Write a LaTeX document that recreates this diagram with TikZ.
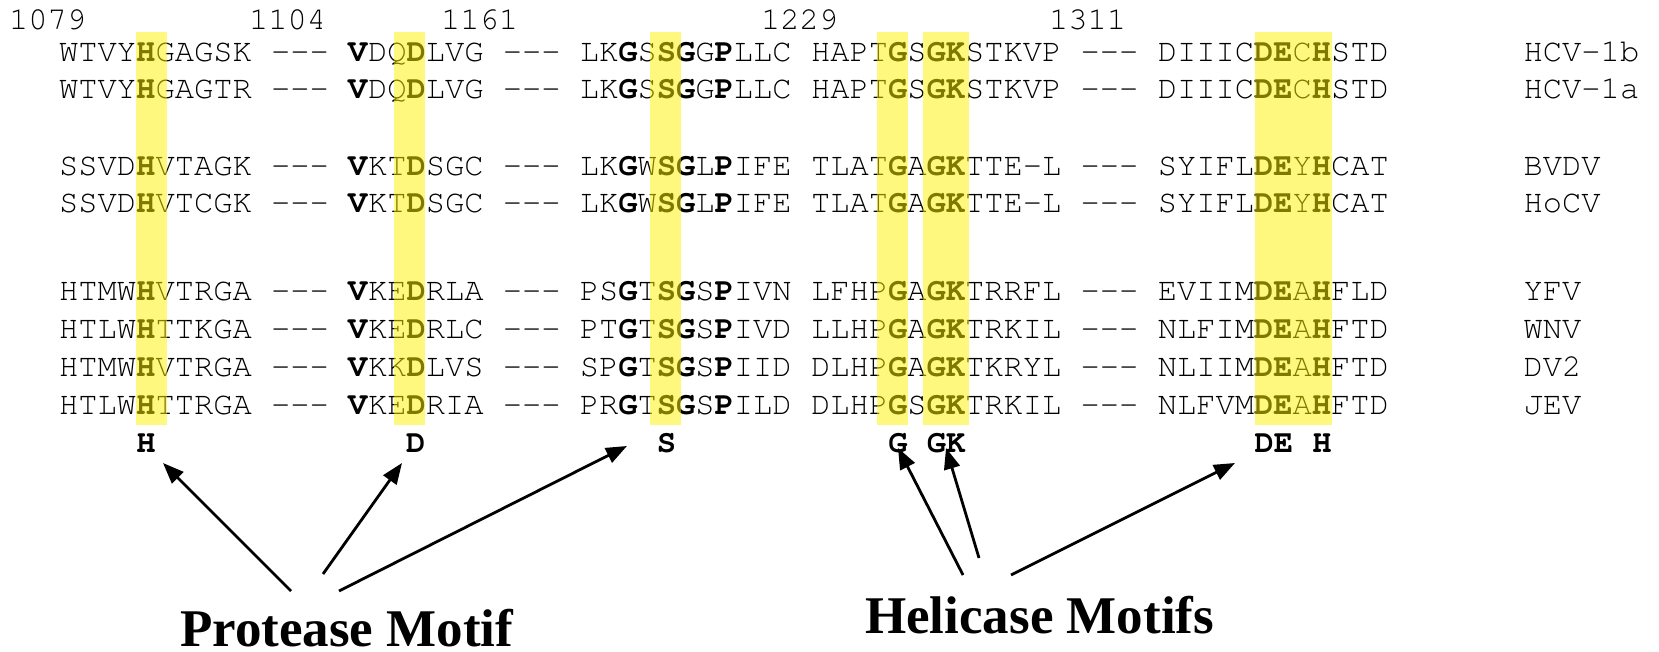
\documentclass[tikz,border=0pt]{standalone}
\usepackage{fontspec}
\setmainfont{Liberation Serif}
\setmonofont{texgyrecursor-regular.otf}[BoldFont=texgyrecursor-bold.otf]
\usetikzlibrary{arrows.meta}

% bold residue inside a sequence
\newcommand{\mk}[1]{\textbf{#1}}
% gap marker between sequence fragments
\newcommand{\dsh}{-\kern0pt-\kern0pt-}

\begin{document}
\begin{tikzpicture}[x=1pt,y=-1pt,
  seq/.style={anchor=base west, inner sep=0pt, font=\ttfamily\fontsize{32.1}{38}\selectfont},
  motif/.style={anchor=base west, inner sep=0pt, font=\ttfamily\bfseries\fontsize{32.1}{38}\selectfont},
  title/.style={anchor=base west, inner sep=0pt, text depth=0pt, font=\bfseries\fontsize{53}{60}\selectfont},
  hl/.style={fill=yellow, fill opacity=0.5, draw=none},
  arr/.style={-{Triangle[length=21pt,width=16pt]}, line width=2.8pt}
]
\useasboundingbox (0,0) rectangle (1659,652);

% residue numbers
\node[seq] (n1079) at (9,30)    {1079};
\node[seq] (n1104) at (249,30)  {1104};
\node[seq] (n1161) at (441,30)  {1161};
\node[seq] (n1229) at (761,30)  {1229};
\node[seq] (n1311) at (1049,30) {1311};

% aligned sequences
\node[seq] (r1) at (59,62)  {WTVY\mk{H}GAGSK~\dsh~\mk{V}DQ\mk{D}LVG~\dsh~LK\mk{G}S\mk{S}\mk{G}G\mk{P}LLC~HAPT\mk{G}S\mk{GK}STKVP~\dsh~DIIIC\mk{DE}C\mk{H}STD~~~~~~~HCV-1b};
\node[seq] (r2) at (59,99)  {WTVY\mk{H}GAGTR~\dsh~\mk{V}DQ\mk{D}LVG~\dsh~LK\mk{G}S\mk{S}\mk{G}G\mk{P}LLC~HAPT\mk{G}S\mk{GK}STKVP~\dsh~DIIIC\mk{DE}C\mk{H}STD~~~~~~~HCV-1a};
\node[seq] (r3) at (59,176) {SSVD\mk{H}VTAGK~\dsh~\mk{V}KT\mk{D}SGC~\dsh~LK\mk{G}W\mk{S}\mk{G}L\mk{P}IFE~TLAT\mk{G}A\mk{GK}TTE-L~\dsh~SYIFL\mk{DE}Y\mk{H}CAT~~~~~~~BVDV};
\node[seq] (r4) at (59,213) {SSVD\mk{H}VTCGK~\dsh~\mk{V}KT\mk{D}SGC~\dsh~LK\mk{G}W\mk{S}\mk{G}L\mk{P}IFE~TLAT\mk{G}A\mk{GK}TTE-L~\dsh~SYIFL\mk{DE}Y\mk{H}CAT~~~~~~~HoCV};
\node[seq] (r5) at (59,300) {HTMW\mk{H}VTRGA~\dsh~\mk{V}KE\mk{D}RLA~\dsh~PS\mk{G}T\mk{S}\mk{G}S\mk{P}IVN~LFHP\mk{G}A\mk{GK}TRRFL~\dsh~EVIIM\mk{DE}A\mk{H}FLD~~~~~~~YFV};
\node[seq] (r6) at (59,338) {HTLW\mk{H}TTKGA~\dsh~\mk{V}KE\mk{D}RLC~\dsh~PT\mk{G}T\mk{S}\mk{G}S\mk{P}IVD~LLHP\mk{G}A\mk{GK}TRKIL~\dsh~NLFIM\mk{DE}A\mk{H}FTD~~~~~~~WNV};
\node[seq] (r7) at (59,376) {HTMW\mk{H}VTRGA~\dsh~\mk{V}KK\mk{D}LVS~\dsh~SP\mk{G}T\mk{S}\mk{G}S\mk{P}IID~DLHP\mk{G}A\mk{GK}TKRYL~\dsh~NLIIM\mk{DE}A\mk{H}FTD~~~~~~~DV2};
\node[seq] (r8) at (59,414) {HTLW\mk{H}TTRGA~\dsh~\mk{V}KE\mk{D}RIA~\dsh~PR\mk{G}T\mk{S}\mk{G}S\mk{P}ILD~DLHP\mk{G}S\mk{GK}TRKIL~\dsh~NLFVM\mk{DE}A\mk{H}FTD~~~~~~~JEV};

% conserved columns, laid over the text
\fill[hl] (136,32) rectangle (167,425);
\fill[hl] (394,32) rectangle (425,425);
\fill[hl] (650,32) rectangle (681,425);
\fill[hl] (877,32) rectangle (908,425);
\fill[hl] (923,32) rectangle (969,425);
\fill[hl] (1255,32) rectangle (1332,425);

% motif residues
\node[motif] (labH)   at ({59+4*19.28},452)  {H};
\node[motif] (labD)   at ({59+18*19.28},452) {D};
\node[motif] (labS)   at ({59+31*19.28},452) {S};
\node[motif] (labG)   at ({59+43*19.28},452) {G};
\node[motif] (labGK)  at ({59+45*19.28},452) {GK};
\node[motif] (labDEH) at ({59+62*19.28},452) {DE~H};

% headings
\node[title] (prot) at (180,646) {Protease Motif};
\node[title] (heli) at (865,633) {Helicase Motifs};

% arrow ends
\coordinate (pa) at (291,591);
\coordinate (pb) at (323,574);
\coordinate (pc) at (339,591);
\coordinate (ha) at (963,575);
\coordinate (hb) at (979,558);
\coordinate (hc) at (1011,575);
\coordinate (tH)   at (163,463);
\coordinate (tD)   at (402,463);
\coordinate (tS)   at (627,446);
\coordinate (tG)   at (898,448);
\coordinate (tGK)  at (946,448);
\coordinate (tDEH) at (1235,463);

\draw[arr] (pa) -- (tH);
\draw[arr] (pb) -- (tD);
\draw[arr] (pc) -- (tS);
\draw[arr] (ha) -- (tG);
\draw[arr] (hb) -- (tGK);
\draw[arr] (hc) -- (tDEH);
\end{tikzpicture}
\end{document}
